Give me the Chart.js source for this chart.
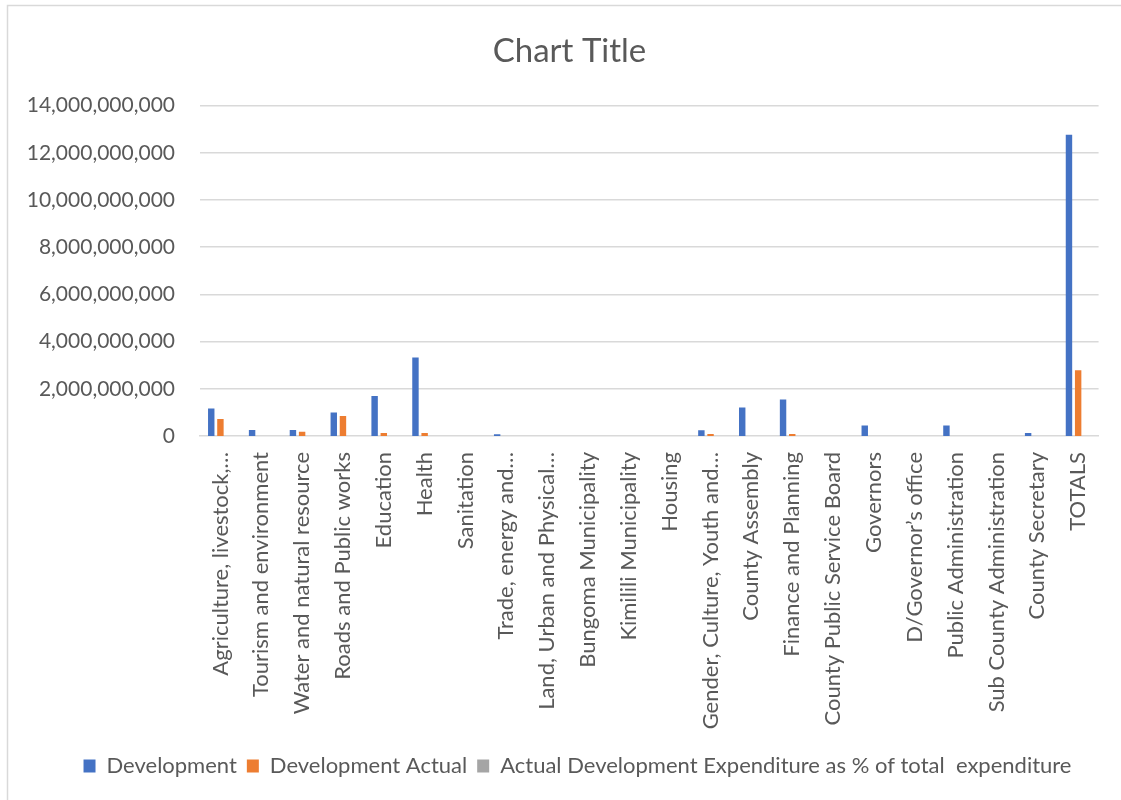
<!DOCTYPE html>
<html>
<head>
<meta charset="utf-8">
<title>Chart Title</title>
<script src="https://cdn.jsdelivr.net/npm/chart.js@4/dist/chart.umd.min.js"></script>
<style>
    html, body { margin: 0; padding: 0; background: #ffffff; }
    #wrap { width: 1121px; height: 800px; position: relative; }
</style>
</head>
<body>
<div id="wrap"><canvas id="devChart" width="1121" height="800"></canvas></div>
<script>
// === Data ===
const departments = [
    "Agriculture, livestock,\u2026",
    "Tourism and environment",
    "Water and natural resource",
    "Roads and Public works",
    "Education",
    "Health",
    "Sanitation",
    "Trade, energy and\u2026",
    "Land, Urban and Physical\u2026",
    "Bungoma Municipality",
    "Kimilili Municipality",
    "Housing",
    "Gender, Culture, Youth and\u2026",
    "County Assembly",
    "Finance and Planning",
    "County Public Service Board",
    "Governors",
    "D/Governor\u2019s office",
    "Public Administration",
    "Sub County Administration",
    "County Secretary",
    "TOTALS"
];

const development = [
    1160000000, 250000000, 250000000, 1000000000, 1700000000, 3330000000,
    0, 70000000, 0, 0, 0, 0,
    240000000, 1210000000, 1550000000, 0, 450000000, 0,
    450000000, 0, 130000000, 12760000000
];

const developmentActual = [
    720000000, 0, 180000000, 850000000, 130000000, 130000000,
    0, 0, 0, 0, 0, 0,
    80000000, 0, 80000000, 0, 0, 0,
    0, 0, 0, 2790000000
];

// percentages, far too small to show on this scale
const actualPercent = [
    62, 0, 72, 85, 8, 4,
    0, 0, 0, 0, 0, 0,
    33, 0, 5, 0, 0, 0,
    0, 0, 0, 22
];

const yTicks = [0, 2000000000, 4000000000, 6000000000, 8000000000, 10000000000, 12000000000, 14000000000];

const seriesNames = [
    "Development",
    "Development Actual",
    "Actual Development Expenditure as % of total  expenditure"
];

const textColor = "#595959";
const gridColor = "#d9d9d9";
const fontFamily = "Lato, 'Open Sans', sans-serif";

// light outer frame like a spreadsheet chart object
const frameBorder = {
    id: "frameBorder",
    beforeDraw(chart) {
        const ctx = chart.ctx;
        ctx.save();
        ctx.fillStyle = "#ffffff";
        ctx.fillRect(0, 0, chart.width, chart.height);
        ctx.strokeStyle = gridColor;
        ctx.lineWidth = 1.5;
        ctx.beginPath();
        ctx.moveTo(7.5, chart.height);
        ctx.lineTo(7.5, 5.5);
        ctx.lineTo(chart.width, 5.5);
        ctx.stroke();
        ctx.restore();
    }
};

// title and legend sit a little right of the plot centre
const shiftBoxes = {
    id: "shiftBoxes",
    afterLayout(chart) {
        const title = chart.titleBlock;
        if (title) {
            title.left += 15;
            title.right += 15;
        }
        const legend = chart.legend;
        if (legend) {
            legend.left += 23;
            legend.right += 23;
            legend.adjustHitBoxes();
        }
    }
};

const devChartCanvas = document.getElementById("devChart");

new Chart(devChartCanvas, {
    type: "bar",
    data: {
        labels: departments,
        datasets: [
            {
                label: seriesNames[0],
                data: development,
                backgroundColor: "#4472c4",
                categoryPercentage: 0.674,
                barPercentage: 0.7
            },
            {
                label: seriesNames[1],
                data: developmentActual,
                backgroundColor: "#ed7d31",
                categoryPercentage: 0.674,
                barPercentage: 0.7
            },
            {
                label: seriesNames[2],
                data: actualPercent,
                backgroundColor: "#a5a5a5",
                inflateAmount: 0,
                categoryPercentage: 0.674,
                barPercentage: 0.7
            }
        ]
    },
    options: {
        responsive: false,
        animation: false,
        layout: { padding: { top: 0, left: 8, right: 20, bottom: 13 } },
        plugins: {
            title: {
                display: true,
                text: "Chart Title",
                color: textColor,
                font: { family: fontFamily, size: 33, weight: "normal" },
                padding: { top: 32, bottom: 34 }
            },
            legend: {
                display: true,
                position: "bottom",
                labels: {
                    color: textColor,
                    font: { family: fontFamily, size: 22 },
                    boxWidth: 12,
                    boxHeight: 13,
                    padding: 10
                }
            },
            tooltip: { enabled: false }
        },
        scales: {
            x: {
                grid: { display: false, drawTicks: false },
                border: { display: true, color: gridColor, width: 1.5 },
                ticks: {
                    color: textColor,
                    font: { family: fontFamily, size: 22 },
                    minRotation: 90,
                    maxRotation: 90,
                    autoSkip: false,
                    padding: 16
                },
                afterFit(scale) {
                    scale.height = 309;
                }
            },
            y: {
                min: 0,
                max: 14000000000,
                afterBuildTicks(scale) {
                    scale.ticks = yTicks.map(v => ({ value: v }));
                },
                grid: {
                    color: gridColor,
                    // the zero line comes from the x axis border
                    lineWidth: ctx => (ctx.tick && ctx.tick.value === 0 ? 0 : 1.5),
                    drawTicks: false
                },
                border: { display: false },
                ticks: {
                    color: textColor,
                    font: { family: fontFamily, size: 21 },
                    padding: 25,
                    callback: value => value.toLocaleString("en-US")
                },
                afterFit(scale) {
                    scale.width = 192;
                }
            }
        }
    },
    plugins: [frameBorder, shiftBoxes]
});
</script>
</body>
</html>
